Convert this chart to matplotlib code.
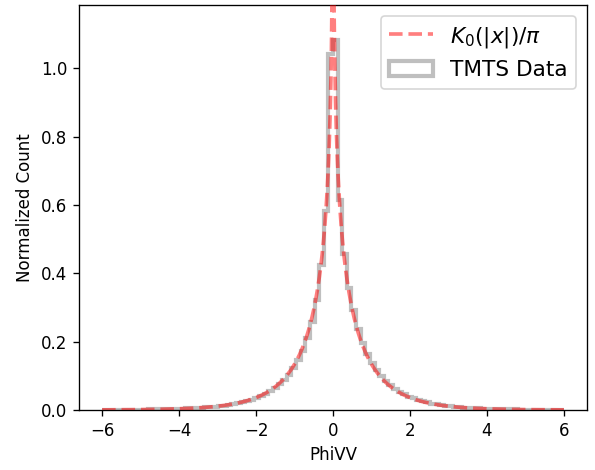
import numpy as np
import matplotlib
matplotlib.use("Agg")
import matplotlib.pyplot as plt

# histogram: 100 bins over [-6, 6], density values
bin_lo = -6.0
bin_hi = 6.0

left_counts = [  # bins from -6 up to 0
    0.0004, 0.0005, 0.0005, 0.0006, 0.0007, 0.0008, 0.0009, 0.0010, 0.0011, 0.0013,
    0.0015, 0.0018, 0.0020, 0.0023, 0.0026, 0.0030, 0.0034, 0.0039, 0.0045, 0.0051,
    0.0058, 0.0066, 0.0076, 0.0087, 0.0099,
    0.0112, 0.0128, 0.0148, 0.017, 0.0196, 0.0225, 0.026, 0.030, 0.035, 0.040,
    0.047, 0.055, 0.064, 0.075, 0.088, 0.103, 0.122, 0.145, 0.174, 0.211,
    0.258, 0.322, 0.424, 0.582, 1.043,
]
right_counts = [  # bins from 0 up to 6
    1.084, 0.614, 0.457, 0.357, 0.292, 0.236, 0.196, 0.164, 0.138, 0.117,
    0.099, 0.085, 0.072, 0.062, 0.053, 0.046, 0.039, 0.034, 0.029, 0.025,
    0.022, 0.019, 0.0165, 0.0143, 0.0124,
    0.0108, 0.0095, 0.0083, 0.0072, 0.0063, 0.0055, 0.0048, 0.0042, 0.0037, 0.0032,
    0.0028, 0.0025, 0.0021, 0.0019, 0.0016, 0.0014, 0.0012, 0.0011, 0.0009, 0.0008,
    0.0007, 0.0006, 0.0005, 0.0005, 0.0004,
]
counts = np.array(left_counts + right_counts)
edges = np.linspace(bin_lo, bin_hi, len(counts) + 1)


# theoretical curve K0(|x|)/pi, K0 by integral representation
def k0(x):
    t = np.linspace(0, 20, 4000)
    return np.trapezoid(np.exp(-np.outer(x, np.cosh(t))), t, axis=1)


xs = np.linspace(bin_lo, bin_hi, 1000)
ys = k0(np.abs(xs)) / np.pi

fig = plt.figure(figsize=(595 / 120, 470 / 120), dpi=120)
ax = fig.add_axes([79 / 595, 60 / 470, 508 / 595, 405 / 470])

ax.plot(xs, ys, "--", color="red", alpha=0.5, lw=2.2, label=r"$K_0(|x|)/\pi$", zorder=3)
ax.hist(edges[:-1], bins=edges, weights=counts, histtype="step",
        color="gray", alpha=0.5, lw=2.5, label="TMTS Data")

ax.set_xlim(-6.6, 6.6)
ax.set_ylim(0, 1.185)
ax.set_xlabel("PhiVV")
ax.set_ylabel("Normalized Count")
ax.legend(loc="upper right", fontsize=13)

fig.savefig("out.png", dpi=120)
